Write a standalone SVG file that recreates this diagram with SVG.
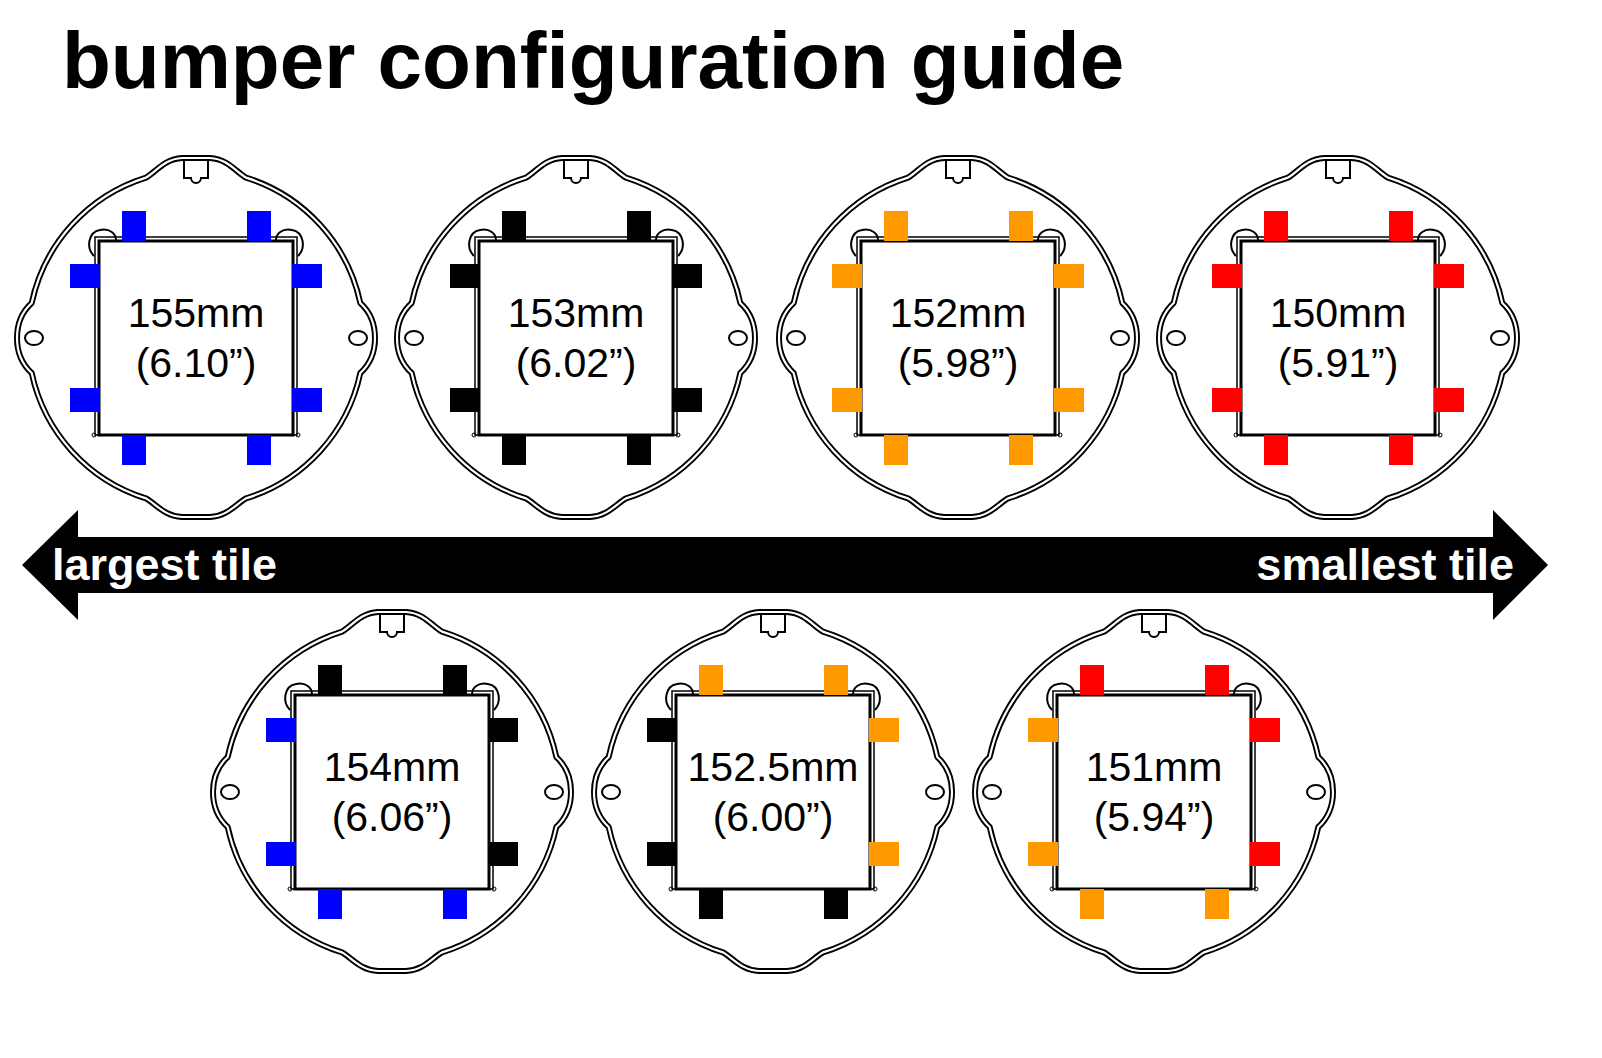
<svg xmlns="http://www.w3.org/2000/svg" width="1602" height="1058" viewBox="0 0 1602 1058">
<style>
.o{fill:none;stroke:#000;stroke-width:6;stroke-linejoin:round}
.i{fill:none;stroke:#fff;stroke-width:2.2;stroke-linejoin:round}
.t{font-family:"Liberation Sans",Arial,sans-serif;font-size:41px;text-anchor:middle;fill:#000}
.B{fill:#0000ff}.K{fill:#000}.O{fill:#ff9900}.R{fill:#ff0000}
</style>
<defs>
<path id="out" d="M -50,-160.4 C -40,-166 -32,-179 -14,-180 L 14,-180 C 32,-179 40,-166 50,-160.4 A 168 168 0 0 1 164.3,-35 C 172,-28 179,-16 179,0 C 179,16 172,28 164.3,35 A 168 168 0 0 1 50,160.4 C 40,166 32,178 14,179 L -14,179 C -32,178 -40,166 -50,160.4 A 168 168 0 0 1 -164.3,35 C -172,28 -179,16 -179,0 C -179,-16 -172,-28 -164.3,-35 A 168 168 0 0 1 -50,-160.4 Z"/>
<g id="housing">
<use href="#out" class="o"/>
<use href="#out" class="i"/>
<path d="M -12,-179 L -12,-160 L -5,-160 A 5 5 0 0 0 5,-160 L 12,-160 L 12,-179" fill="none" stroke="#000" stroke-width="2"/>
<ellipse cx="-162" cy="0" rx="9" ry="7" fill="none" stroke="#000" stroke-width="2"/>
<ellipse cx="162" cy="0" rx="9" ry="7" fill="none" stroke="#000" stroke-width="2"/>
<path d="M -102,-82 C -110,-90 -108,-106 -96,-108 C -86,-110 -80,-104 -80,-98 M 102,-82 C 110,-90 108,-106 96,-108 C 86,-110 80,-104 80,-98" fill="none" stroke="#000" stroke-width="2"/>
<rect x="-101" y="-101" width="202" height="198" fill="none" stroke="#000" stroke-width="1.5"/>
<rect x="-97" y="-97" width="194" height="194" fill="#fff" stroke="#000" stroke-width="3"/>
<circle cx="-102" cy="97" r="2" fill="none" stroke="#000"/>
<circle cx="102" cy="97" r="2" fill="none" stroke="#000"/>
</g>
<rect id="tv" x="-12" y="-15" width="24" height="30"/>
<rect id="th" x="-15" y="-12" width="30" height="24"/>
</defs>

<text x="62" y="88" font-family="Liberation Sans,Arial,sans-serif" font-weight="bold" font-size="80" fill="#000">bumper configuration guide</text>

<g id="connectors">
<path d="M 22,565 L 78,510 L 78,537 L 1493,537 L 1493,510 L 1548,565 L 1493,620 L 1493,593 L 78,593 L 78,620 Z" fill="#000"/>
<text x="52" y="580" font-family="Liberation Sans,Arial,sans-serif" font-weight="bold" font-size="45" fill="#fff">largest tile</text>
<text x="1514" y="580" font-family="Liberation Sans,Arial,sans-serif" font-weight="bold" font-size="45" fill="#fff" text-anchor="end">smallest tile</text>
</g>

<g id="n155" transform="translate(196,338)">
<use href="#housing"/>
<g class="B"><use href="#tv" x="-62" y="-112"/><use href="#tv" x="63" y="-112"/><use href="#tv" x="-62" y="112"/><use href="#tv" x="63" y="112"/></g>
<g class="B"><use href="#th" x="-111" y="-62"/><use href="#th" x="-111" y="62"/></g>
<g class="B"><use href="#th" x="111" y="-62"/><use href="#th" x="111" y="62"/></g>
<text class="t" y="-11">155mm</text><text class="t" y="39">(6.10”)</text>
</g>

<g id="n153" transform="translate(576,338)">
<use href="#housing"/>
<g class="K"><use href="#tv" x="-62" y="-112"/><use href="#tv" x="63" y="-112"/><use href="#tv" x="-62" y="112"/><use href="#tv" x="63" y="112"/></g>
<g class="K"><use href="#th" x="-111" y="-62"/><use href="#th" x="-111" y="62"/></g>
<g class="K"><use href="#th" x="111" y="-62"/><use href="#th" x="111" y="62"/></g>
<text class="t" y="-11">153mm</text><text class="t" y="39">(6.02”)</text>
</g>

<g id="n152" transform="translate(958,338)">
<use href="#housing"/>
<g class="O"><use href="#tv" x="-62" y="-112"/><use href="#tv" x="63" y="-112"/><use href="#tv" x="-62" y="112"/><use href="#tv" x="63" y="112"/></g>
<g class="O"><use href="#th" x="-111" y="-62"/><use href="#th" x="-111" y="62"/></g>
<g class="O"><use href="#th" x="111" y="-62"/><use href="#th" x="111" y="62"/></g>
<text class="t" y="-11">152mm</text><text class="t" y="39">(5.98”)</text>
</g>

<g id="n150" transform="translate(1338,338)">
<use href="#housing"/>
<g class="R"><use href="#tv" x="-62" y="-112"/><use href="#tv" x="63" y="-112"/><use href="#tv" x="-62" y="112"/><use href="#tv" x="63" y="112"/></g>
<g class="R"><use href="#th" x="-111" y="-62"/><use href="#th" x="-111" y="62"/></g>
<g class="R"><use href="#th" x="111" y="-62"/><use href="#th" x="111" y="62"/></g>
<text class="t" y="-11">150mm</text><text class="t" y="39">(5.91”)</text>
</g>

<g id="n154" transform="translate(392,792)">
<use href="#housing"/>
<g class="K"><use href="#tv" x="-62" y="-112"/><use href="#tv" x="63" y="-112"/></g>
<g class="B"><use href="#tv" x="-62" y="112"/><use href="#tv" x="63" y="112"/></g>
<g class="B"><use href="#th" x="-111" y="-62"/><use href="#th" x="-111" y="62"/></g>
<g class="K"><use href="#th" x="111" y="-62"/><use href="#th" x="111" y="62"/></g>
<text class="t" y="-11">154mm</text><text class="t" y="39">(6.06”)</text>
</g>

<g id="n1525" transform="translate(773,792)">
<use href="#housing"/>
<g class="O"><use href="#tv" x="-62" y="-112"/><use href="#tv" x="63" y="-112"/></g>
<g class="K"><use href="#tv" x="-62" y="112"/><use href="#tv" x="63" y="112"/></g>
<g class="K"><use href="#th" x="-111" y="-62"/><use href="#th" x="-111" y="62"/></g>
<g class="O"><use href="#th" x="111" y="-62"/><use href="#th" x="111" y="62"/></g>
<text class="t" y="-11">152.5mm</text><text class="t" y="39">(6.00”)</text>
</g>

<g id="n151" transform="translate(1154,792)">
<use href="#housing"/>
<g class="R"><use href="#tv" x="-62" y="-112"/><use href="#tv" x="63" y="-112"/></g>
<g class="O"><use href="#tv" x="-62" y="112"/><use href="#tv" x="63" y="112"/></g>
<g class="O"><use href="#th" x="-111" y="-62"/><use href="#th" x="-111" y="62"/></g>
<g class="R"><use href="#th" x="111" y="-62"/><use href="#th" x="111" y="62"/></g>
<text class="t" y="-11">151mm</text><text class="t" y="39">(5.94”)</text>
</g>
</svg>
